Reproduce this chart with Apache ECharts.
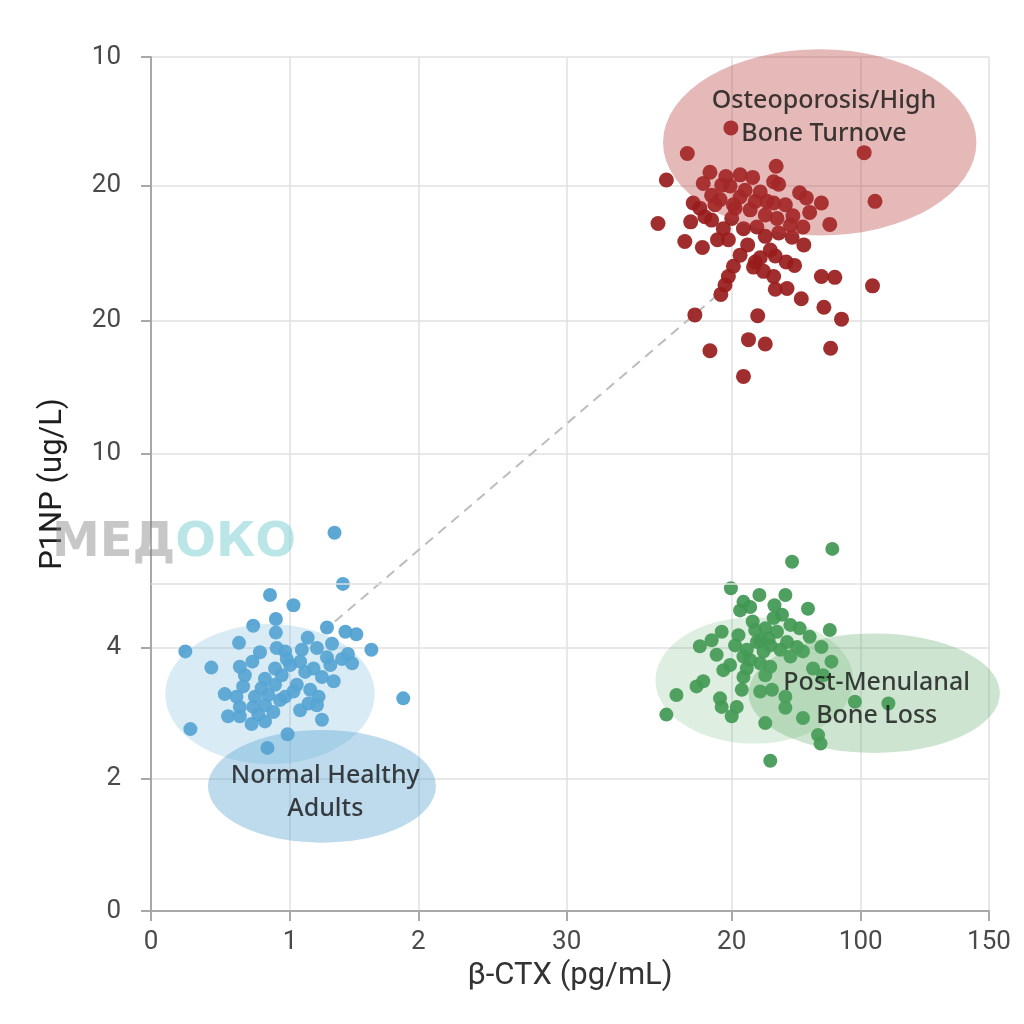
<!DOCTYPE html>
<html>
<head>
<meta charset="utf-8">
<script src="https://cdn.jsdelivr.net/npm/echarts@6/dist/echarts.min.js"></script>
<style>
  html, body { margin: 0; padding: 0; background: #fff; }
  #chart { width: 1024px; height: 1024px; }
</style>
</head>
<body>
<div id="chart"></div>
<script>
'use strict'

// axis positions are on a 0-100 plot scale; the printed tick labels are uneven
const xTickPos = [0, 16.6, 31.9, 49.6, 69.3, 84.7, 100]
const xTickLabels = ['0', '1', '2', '30', '20', '100', '150']
const yTickPos = [0, 15.5, 30.8, 53.6, 69.1, 84.9, 100]
const yTickLabels = ['0', '2', '4', '10', '20', '20', '10']
const yExtraGrid = 38.3

const highTurnover = [
  [69.2, 91.7], [64.0, 88.7], [85.1, 88.8], [61.5, 85.6], [74.6, 87.2], [66.7, 86.5], [68.6, 86.0],
  [70.3, 86.2], [71.8, 85.9], [65.9, 85.2], [69.1, 84.9], [74.3, 85.4], [74.9, 85.1], [77.4, 84.1],
  [78.2, 83.5], [80.0, 82.9], [86.4, 83.1], [66.9, 83.8], [67.9, 83.3], [64.7, 82.9], [65.5, 82.3],
  [70.3, 83.6], [69.5, 82.7], [72.1, 83.1], [73.5, 83.1], [74.3, 82.9], [71.5, 82.1], [60.5, 80.5],
  [64.4, 80.7], [66.1, 81.3], [66.9, 80.9], [69.3, 81.1], [74.7, 81.1], [76.6, 81.4], [78.6, 81.8],
  [81.0, 80.4], [77.8, 80.1], [68.3, 79.9], [70.7, 79.9], [72.3, 80.1], [73.3, 79.0], [74.9, 79.4],
  [76.5, 78.9], [77.9, 78.0], [63.7, 78.4], [65.8, 77.7], [67.6, 78.6], [71.2, 78.0], [74.5, 76.7],
  [75.8, 76.0], [76.8, 75.6], [72.1, 76.0], [71.9, 75.4], [69.5, 75.5], [73.1, 74.9], [74.3, 74.3],
  [68.9, 74.3], [80.0, 74.3], [81.6, 74.2], [68.5, 73.3], [74.5, 72.8], [75.9, 72.9], [86.1, 73.2],
  [68.0, 72.2], [77.6, 71.7], [80.3, 70.7], [64.9, 69.8], [72.4, 69.7], [82.4, 69.3], [71.3, 66.9],
  [73.3, 66.4], [66.7, 65.6], [81.1, 65.9], [70.7, 62.6],
  [68.1, 85.0], [70.9, 84.4], [72.7, 84.2], [67.3, 82.7], [69.7, 82.3], [73.3, 81.5], [75.7, 82.7],
  [76.3, 80.3], [68.9, 78.6], [73.9, 77.4], [70.3, 76.8], [72.7, 76.5]
]

const healthyAdults = [
  [21.9, 44.3], [22.9, 38.3], [14.2, 37.0], [17.0, 35.8], [14.9, 34.2], [12.2, 33.4], [21.0, 33.2],
  [23.2, 32.7], [24.5, 32.4], [14.9, 32.6], [4.1, 30.4], [10.5, 31.4], [18.7, 32.0], [21.6, 31.3],
  [26.3, 30.6], [15.0, 30.8], [16.0, 30.4], [18.0, 30.6], [19.8, 30.8], [13.0, 30.3], [7.2, 28.5],
  [10.6, 28.6], [12.1, 29.2], [16.2, 29.5], [17.8, 29.2], [21.0, 29.7], [22.8, 29.5], [23.5, 30.1],
  [24.0, 29.0], [14.8, 28.4], [15.6, 27.6], [18.4, 28.0], [19.4, 28.4], [20.4, 27.4], [21.8, 26.9],
  [11.2, 27.6], [13.6, 27.2], [11.0, 26.3], [13.2, 26.1], [14.8, 26.5], [17.4, 26.5], [8.8, 25.4],
  [10.2, 25.1], [12.4, 25.1], [14.0, 25.3], [16.0, 25.1], [17.0, 25.7], [20.0, 25.1], [18.8, 24.3],
  [30.1, 24.9], [10.6, 23.9], [12.2, 23.9], [13.6, 24.1], [14.6, 23.3], [9.2, 22.8], [10.6, 22.8],
  [12.8, 23.0], [20.4, 22.4], [12.0, 21.9], [13.6, 22.2], [4.7, 21.3], [16.3, 20.7], [13.9, 19.1],
  [19.8, 24.1], [16.6, 28.8], [19.0, 25.9], [15.4, 24.7], [17.8, 23.5], [21.4, 28.8]
]

const postMeno = [
  [81.3, 42.4], [76.5, 40.9], [69.2, 37.8], [72.6, 37.0], [75.7, 37.0], [70.7, 36.2], [71.5, 35.6],
  [70.3, 35.2], [78.4, 35.4], [75.3, 34.7], [74.3, 34.3], [71.8, 33.9], [81.0, 32.9], [77.4, 33.1],
  [68.1, 32.7], [70.1, 32.3], [73.3, 33.1], [74.7, 32.7], [78.6, 32.1], [66.9, 31.7], [65.5, 31.0],
  [72.3, 31.5], [73.7, 31.9], [75.9, 31.5], [77.1, 30.9], [80.0, 30.9], [71.1, 30.6], [73.1, 30.4],
  [67.5, 30.0], [70.7, 29.8], [76.3, 29.8], [77.8, 30.4], [81.2, 29.2], [69.1, 28.8], [72.7, 29.0],
  [73.9, 28.6], [79.0, 28.4], [68.3, 28.2], [71.1, 28.4], [73.3, 27.6], [70.7, 27.4], [80.2, 27.6],
  [65.9, 26.9], [65.1, 26.3], [62.7, 25.3], [70.5, 25.9], [72.7, 25.7], [74.1, 25.9], [75.7, 25.1],
  [67.9, 24.9], [84.0, 24.5], [88.0, 24.3], [68.1, 23.9], [69.9, 23.9], [75.7, 23.8], [61.5, 23.0],
  [69.3, 22.8], [73.3, 22.0], [77.8, 22.6], [79.6, 20.6], [79.9, 19.6], [73.9, 17.6],
  [72.1, 32.9], [73.9, 31.1], [75.1, 30.6], [71.5, 29.4], [72.7, 31.7], [76.3, 33.5], [69.7, 31.1],
  [74.4, 35.8]
]

// ellipses: [cx, cy, rx, ry] in plot units
const redEllipses = [[79.8, 90.0, 18.7, 10.9]]
const blueEllipses = [[14.2, 25.4, 12.5, 8.2], [20.4, 14.6, 13.6, 6.6]]
const greenEllipses = [[72.0, 27.0, 11.8, 7.4], [86.3, 25.5, 15.0, 7.0]]

const trendLine = [[20.4, 32.6], [69.7, 73.9]]

const groupLabels = [
  { value: [80.3, 92.9], name: 'Osteoporosis/High\nBone Turnove' },
  { value: [20.8, 13.9], name: 'Normal Healthy\nAdults' },
  { value: [86.6, 24.8], name: 'Post-Menulanal\nBone Loss' }
]

const FONT = 'Roboto, "Noto Sans", sans-serif'
const AXIS_GREY = '#a8a8a8'
const GRID_GREY = '#e0e0e0'

function ellipseSeries (data, fills) {
  return {
    type: 'custom',
    clip: false,
    z: 5,
    silent: true,
    data,
    renderItem (params, api) {
      const c = api.coord([api.value(0), api.value(1)])
      const s = api.size([api.value(2), api.value(3)])
      return {
        type: 'circle',
        x: c[0],
        y: c[1],
        scaleX: s[0] / s[1],
        scaleY: 1,
        shape: { cx: 0, cy: 0, r: s[1] },
        style: { fill: fills[params.dataIndex] }
      }
    }
  }
}

function pointSeries (data, color, size) {
  return {
    type: 'scatter',
    data,
    symbolSize: size,
    z: 3,
    itemStyle: { color, opacity: 0.92 }
  }
}

const chart = echarts.init(document.getElementById('chart'))

chart.setOption({
  animation: false,
  backgroundColor: '#ffffff',
  grid: { left: 151, right: 35, top: 57, bottom: 113 },
  xAxis: {
    type: 'value',
    min: 0,
    max: 100,
    name: 'β-CTX (pg/mL)',
    nameLocation: 'middle',
    nameGap: 50,
    nameTextStyle: { fontSize: 31, color: '#333', fontFamily: FONT },
    axisLine: { show: true, lineStyle: { color: AXIS_GREY, width: 2 } },
    axisTick: { show: true, length: 10, lineStyle: { color: AXIS_GREY, width: 2 }, customValues: xTickPos },
    axisLabel: {
      customValues: xTickPos,
      margin: 18,
      fontSize: 26,
      color: '#4a4a4a',
      fontFamily: FONT,
      formatter: v => xTickLabels[xTickPos.indexOf(v)] ?? ''
    },
    splitLine: { show: true, lineStyle: { color: GRID_GREY, width: 1.5 } }
  },
  yAxis: {
    type: 'value',
    min: 0,
    max: 100,
    name: 'P1NP (ug/L)',
    nameLocation: 'middle',
    nameGap: 82,
    nameTextStyle: { fontSize: 31, color: '#1e1e1e', fontFamily: FONT },
    axisLine: { show: true, lineStyle: { color: AXIS_GREY, width: 2 } },
    axisTick: { show: true, length: 10, lineStyle: { color: AXIS_GREY, width: 2 }, customValues: yTickPos },
    axisLabel: {
      customValues: yTickPos,
      margin: 30,
      fontSize: 26,
      color: '#4a4a4a',
      fontFamily: FONT,
      formatter: v => yTickLabels[yTickPos.indexOf(v)] ?? ''
    },
    splitLine: { show: true, lineStyle: { color: GRID_GREY, width: 1.5 } }
  },
  graphic: [{
    type: 'text',
    left: 52,
    top: 520,
    z: 100,
    silent: true,
    style: {
      text: '{a|МЕД}{b|ОКО}',
      rich: {
        a: { fontSize: 48, fontWeight: 'bold', fontFamily: '"DejaVu Sans", sans-serif', fill: 'rgba(130,130,130,0.45)' },
        b: { fontSize: 48, fontWeight: 'bold', fontFamily: '"DejaVu Sans", sans-serif', fill: 'rgba(120,205,210,0.5)' }
      }
    }
  }],
  series: [
    {
      type: 'line',
      data: trendLine,
      symbol: 'none',
      z: 2,
      silent: true,
      lineStyle: { color: '#bdbdbd', width: 2, type: [10, 7] }
    },
    {
      type: 'line',
      data: [],
      z: 1,
      markLine: {
        silent: true,
        symbol: 'none',
        label: { show: false },
        lineStyle: { color: GRID_GREY, width: 1.5, type: 'solid' },
        data: [{ yAxis: yExtraGrid }]
      }
    },
    pointSeries(healthyAdults, '#4f9fd0', 14),
    pointSeries(postMeno, '#3f9752', 14),
    pointSeries(highTurnover, '#981c1c', 15),
    ellipseSeries(redEllipses, ['rgba(185,60,60,0.36)']),
    ellipseSeries(blueEllipses, ['rgba(110,180,220,0.26)', 'rgba(85,160,210,0.38)']),
    ellipseSeries(greenEllipses, ['rgba(90,170,100,0.2)', 'rgba(90,170,100,0.3)']),
    {
      type: 'scatter',
      data: groupLabels,
      symbolSize: 0,
      z: 20,
      silent: true,
      label: {
        show: true,
        position: 'inside',
        formatter: p => p.name,
        fontSize: 25,
        lineHeight: 33,
        fontWeight: 500,
        color: '#111',
        fontFamily: '"Noto Sans", sans-serif'
      }
    }
  ]
})
</script>
</body>
</html>
